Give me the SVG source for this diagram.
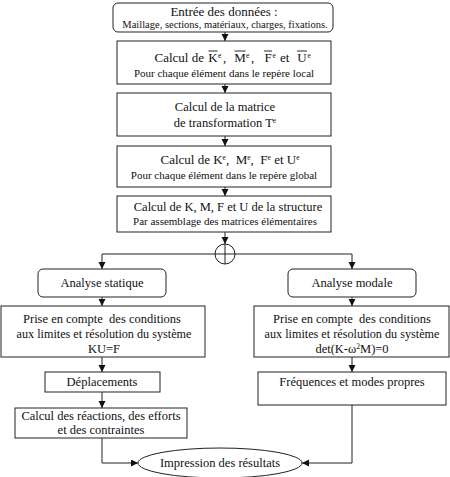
<svg xmlns="http://www.w3.org/2000/svg" width="450" height="477" viewBox="0 0 450 477">
<style>
.box{fill:#fff;stroke:#222;stroke-width:1}
.ln{fill:none;stroke:#222;stroke-width:1}
.bar{stroke:#111;stroke-width:0.9}
.tx{fill:#111;text-anchor:middle;font-family:'Liberation Serif','Times New Roman',Times,serif}
.st{text-anchor:start}
.en{text-anchor:end}
.t{font-size:12.5px}
.s{font-size:11px}
.b{font-size:13px}
.sup{font-size:7.5px}
</style>
<defs>
<marker id="ah" markerUnits="userSpaceOnUse" markerWidth="8" markerHeight="8" refX="7" refY="3.5" orient="auto">
<path d="M0,0 L7,3.5 L0,7 z" fill="#111"/>
</marker>
</defs>
<rect width="450" height="477" fill="#fff"/>
<g id="connectors">
<line class="ln" x1="225" y1="32" x2="225" y2="41" marker-end="url(#ah)"/>
<line class="ln" x1="225" y1="84" x2="225" y2="93" marker-end="url(#ah)"/>
<line class="ln" x1="225" y1="136" x2="225" y2="146" marker-end="url(#ah)"/>
<line class="ln" x1="225" y1="187" x2="225" y2="196" marker-end="url(#ah)"/>
<line class="ln" x1="225" y1="232" x2="225" y2="244" marker-end="url(#ah)"/>
<path class="ln" d="M102,254 H352"/>
<path class="ln" d="M102,254 V269" marker-end="url(#ah)"/>
<path class="ln" d="M352,254 V269" marker-end="url(#ah)"/>
<path class="ln" d="M102,297 V306" marker-end="url(#ah)"/>
<path class="ln" d="M352,297 V306" marker-end="url(#ah)"/>
<path class="ln" d="M102,357 V372" marker-end="url(#ah)"/>
<path class="ln" d="M352,357 V372" marker-end="url(#ah)"/>
<path class="ln" d="M102,392 V408" marker-end="url(#ah)"/>
<path class="ln" d="M102,438 V463 H138" marker-end="url(#ah)"/>
<path class="ln" d="M352,405 V463 H302" marker-end="url(#ah)"/>
</g>
<g id="junction">
<circle cx="225" cy="254" r="10" fill="#fff" stroke="#222"/>
<path class="ln" d="M215,254 H235 M225,244 V264"/>
</g>
<g id="n1">
<rect class="box" x="113" y="3" width="220" height="29" rx="5"/>
<text class="tx b" x="224" y="16">Entrée des données :</text>
<text class="tx" font-size="10.5" x="225" y="28">Maillage, sections, matériaux, charges, fixations.</text>
</g>
<g id="n2">
<rect class="box" x="117" y="41" width="214" height="43"/>
<text class="tx b en" x="204" y="62">Calcul de</text>
<text class="tx b" x="213" y="62">K</text>
<line class="bar" x1="208.5" y1="51" x2="217.5" y2="51"/>
<text class="tx sup st" x="218" y="58">e</text>
<text class="tx b st" x="223" y="62">,</text>
<text class="tx b" x="240" y="62">M</text>
<line class="bar" x1="234.5" y1="51" x2="245.5" y2="51"/>
<text class="tx sup st" x="246" y="58">e</text>
<text class="tx b st" x="251" y="62">,</text>
<text class="tx b" x="268" y="62">F</text>
<line class="bar" x1="264" y1="51" x2="272" y2="51"/>
<text class="tx sup st" x="272.5" y="58">e</text>
<text class="tx b st" x="280" y="62">et</text>
<text class="tx b" x="302" y="62">U</text>
<line class="bar" x1="297" y1="51" x2="307" y2="51"/>
<text class="tx sup st" x="307.5" y="58">e</text>
<text class="tx s" x="224" y="77">Pour chaque élément dans le repère local</text>
</g>
<g id="n3">
<rect class="box" x="117" y="93" width="214" height="43"/>
<text class="tx t" x="225" y="111">Calcul de la matrice</text>
<text class="tx t" x="225" y="127">de transformation T<tspan class="sup" dy="-4">e</tspan></text>
</g>
<g id="n4">
<rect class="box" x="117" y="146" width="214" height="41"/>
<text class="tx b" x="230" y="164">Calcul de K<tspan class="sup" dy="-4">e</tspan><tspan dy="4">,&#160; M</tspan><tspan class="sup" dy="-4">e</tspan><tspan dy="4">,&#160; F</tspan><tspan class="sup" dy="-4">e</tspan><tspan dy="4"> et U</tspan><tspan class="sup" dy="-4">e</tspan></text>
<text class="tx s" x="224" y="179">Pour chaque élément dans le repère global</text>
</g>
<g id="n5">
<rect class="box" x="117" y="196" width="214" height="36"/>
<text class="tx t" x="228" y="211">Calcul de K, M, F et U de la structure</text>
<text class="tx s" x="225" y="225">Par assemblage des matrices élémentaires</text>
</g>
<g id="n6">
<rect class="box" x="38" y="269" width="128" height="28" rx="5"/>
<text class="tx t" x="102" y="287">Analyse statique</text>
</g>
<g id="n7">
<rect class="box" x="288" y="269" width="128" height="28" rx="5"/>
<text class="tx t" x="352" y="287">Analyse modale</text>
</g>
<g id="n8">
<rect class="box" x="1" y="306" width="204" height="51"/>
<text class="tx t" x="102" y="323">Prise en compte&#160; des conditions</text>
<text class="tx" font-size="12.2" x="104" y="338">aux limites et résolution du système</text>
<text class="tx t" x="104" y="353">KU=F</text>
</g>
<g id="n9">
<rect class="box" x="254" y="306" width="195" height="51"/>
<text class="tx t" x="352" y="323">Prise en compte&#160; des conditions</text>
<text class="tx" font-size="12.2" x="352" y="338">aux limites et résolution du système</text>
<text class="tx t" x="352" y="353">det(K-ω<tspan class="sup" dy="-4">2</tspan><tspan dy="4">M)=0</tspan></text>
</g>
<g id="n10">
<rect class="box" x="45" y="372" width="115" height="20"/>
<text class="tx t" x="102" y="386">Déplacements</text>
</g>
<g id="n11">
<rect class="box" x="258" y="372" width="188" height="33"/>
<text class="tx t" x="352" y="386">Fréquences et modes propres</text>
</g>
<g id="n12">
<rect class="box" x="15" y="408" width="172" height="30"/>
<text class="tx t" x="101" y="420">Calcul des réactions, des efforts</text>
<text class="tx t" x="101" y="434">et des contraintes</text>
</g>
<g id="n13">
<ellipse class="box" cx="220" cy="463" rx="82" ry="15"/>
<text class="tx t" x="220" y="467">Impression des résultats</text>
</g>
</svg>
